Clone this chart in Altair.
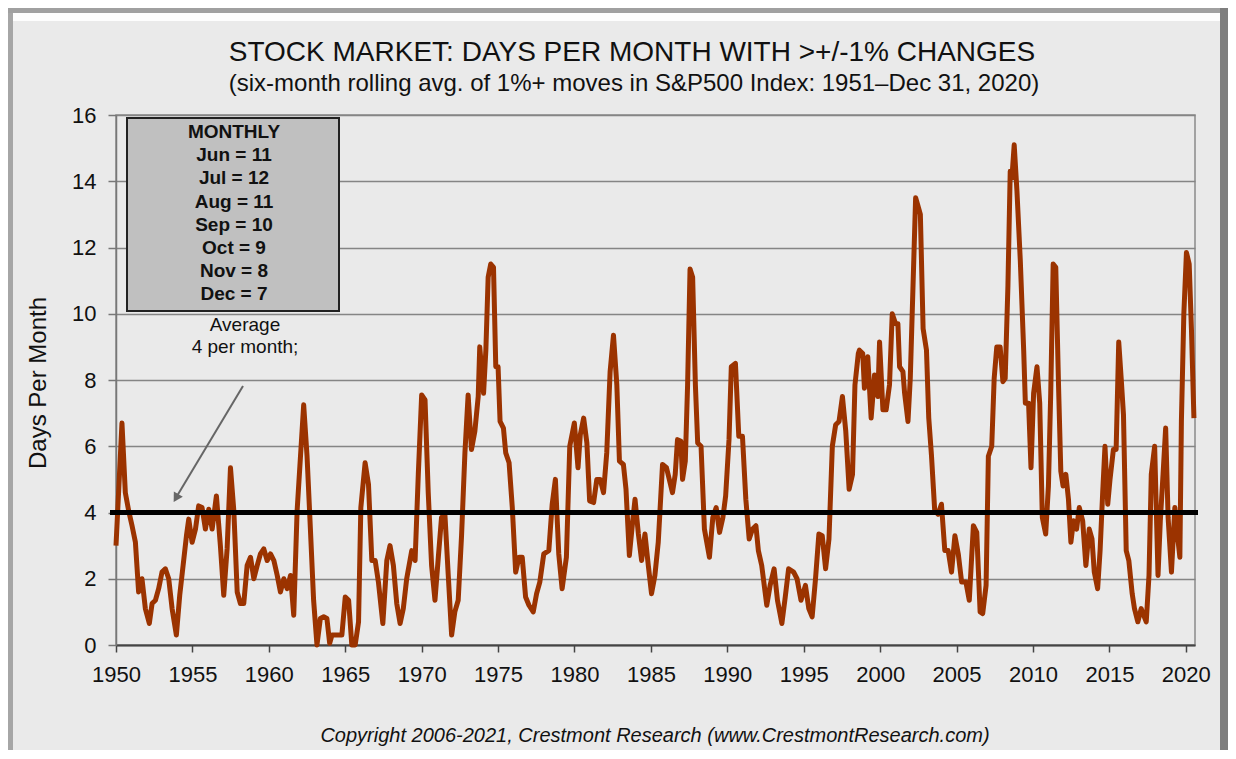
import altair as alt
import pandas as pd

# ---- data ----
years_1950s = [1950.00,1950.39,1950.61,1950.83,1951.05,1951.27,1951.48,1951.70,1951.92,1952.18,1952.36,1952.58,1952.79,
               1953.01,1953.23,1953.45,1953.67,1953.95,1954.17,1954.39,1954.61,1954.76,1954.98,1955.20,1955.41,1955.63,
               1955.85,1956.07,1956.29,1956.57,1956.83,1957.05,1957.27,1957.49,1957.71,1957.93,1958.14,1958.36,1958.58,
               1958.80,1959.02,1959.24,1959.45,1959.67,1959.89,1960.11,1960.33,1960.55,1960.76,1960.98,1961.20,1961.42]
values_1950s = [3.0,6.7,4.6,4.05,3.6,3.1,1.6,2.0,1.1,0.65,1.25,1.35,1.7,
                2.2,2.3,2.0,1.1,0.3,1.5,2.4,3.3,3.8,3.1,3.5,4.2,4.15,
                3.5,4.1,3.5,4.5,3.0,1.5,2.9,5.35,4.05,1.6,1.25,1.25,2.4,
                2.65,2.0,2.4,2.75,2.9,2.55,2.75,2.55,2.1,1.6,2.0,1.7,2.1]

years_1960s = [1961.63,1961.85,1962.28,1962.50,1962.72,1962.93,1963.15,1963.37,1963.59,1963.80,1963.98,1964.13,1964.46,
               1964.78,1965.00,1965.22,1965.43,1965.65,1965.87,1966.02,1966.30,1966.52,1966.74,1966.96,1967.17,1967.46,
               1967.72,1967.93,1968.15,1968.37,1968.59,1968.80,1969.02,1969.35,1969.57,1969.78,1970.00,1970.22,1970.43,
               1970.65,1970.87,1971.09,1971.30,1971.52,1971.74,1971.96,1972.17,1972.39,1972.61,1972.83,1973.04,1973.26,
               1973.48,1973.70,1973.80]
values_1960s = [0.9,4.05,7.25,5.7,3.5,1.35,0.0,0.8,0.85,0.8,0.05,0.3,0.3,
                0.3,1.45,1.35,0.0,0.0,0.7,4.15,5.5,4.85,2.55,2.55,1.9,0.65,
                2.55,3.0,2.4,1.25,0.65,1.1,2.0,2.85,2.55,5.15,7.55,7.4,4.6,
                2.4,1.35,2.65,3.85,3.95,2.1,0.3,1.0,1.35,3.3,5.8,7.55,5.9,
                6.45,7.5,9.0]

years_1970s = [1974.05,1974.20,1974.35,1974.52,1974.70,1974.85,1975.00,1975.13,1975.35,1975.50,1975.72,1975.93,1976.15,
               1976.37,1976.58,1976.80,1977.02,1977.30,1977.52,1977.73,1977.99,1978.32,1978.54,1978.75,1978.97,1979.19,
               1979.47,1979.69,1979.99,1980.23,1980.38,1980.60,1980.81,1980.99,1981.25,1981.46,1981.68,1981.90,1982.11,
               1982.33,1982.55,1982.77,1982.94,1983.20,1983.37,1983.59,1983.81,1983.96,1984.18,1984.39,1984.61,1984.83,
               1985.04,1985.26,1985.48,1985.76,1986.02]
values_1970s = [7.6,8.9,11.1,11.5,11.4,8.4,8.4,6.75,6.55,5.8,5.5,4.15,2.2,
                2.65,2.65,1.45,1.2,1.0,1.55,1.9,2.75,2.85,4.25,5.0,2.75,1.7,
                2.65,6.0,6.7,5.35,6.35,6.85,6.1,4.35,4.3,5.0,5.0,4.6,5.8,
                8.25,9.35,7.85,5.55,5.45,4.7,2.7,3.75,4.4,3.35,2.55,3.35,2.4,
                1.55,2.1,3.1,5.45,5.35]

years_1980s = [1986.41,1986.59,1986.74,1986.96,1987.07,1987.25,1987.40,1987.56,1987.73,1987.91,1988.06,1988.28,1988.50,
               1988.83,1989.05,1989.27,1989.49,1989.71,1989.89,1990.11,1990.26,1990.53,1990.75,1990.99,1991.21,1991.43,
               1991.65,1991.87,1992.03,1992.25,1992.58,1992.80,1993.06,1993.28,1993.57,1993.79,1994.01,1994.34,1994.56,
               1994.82,1995.11,1995.33,1995.55,1995.77,1995.99,1996.21,1996.43,1996.65,1996.87,1997.09,1997.31,1997.53,
               1997.75,1997.97,1998.19,1998.35,1998.57]
values_1980s = [4.6,5.15,6.2,6.15,5.0,5.55,7.85,11.35,11.1,7.85,6.1,6.0,3.5,
                2.65,3.85,4.15,3.4,3.85,4.5,6.2,8.4,8.5,6.3,6.3,4.4,3.2,
                3.5,3.6,2.85,2.4,1.2,1.8,2.3,1.35,0.65,1.45,2.3,2.2,2.0,
                1.35,1.8,1.1,0.85,2.0,3.35,3.3,2.3,3.2,6.0,6.65,6.75,7.5,
                6.45,4.7,5.15,7.85,8.8]

years_2000s = [1998.64,1998.86,1998.97,1999.19,1999.41,1999.63,1999.85,1999.96,2000.18,2000.39,2000.61,2000.79,2001.01,
               2001.16,2001.27,2001.49,2001.60,2001.82,2001.97,2002.15,2002.32,2002.48,2002.63,2002.81,2003.03,2003.18,
               2003.36,2003.57,2003.79,2004.01,2004.23,2004.45,2004.67,2004.89,2005.11,2005.33,2005.61,2005.83,2006.10,
               2006.32,2006.54,2006.71,2006.93,2007.08,2007.30,2007.46,2007.63,2007.85,2008.03,2008.18,2008.36,2008.51,
               2008.62,2008.77,2008.95,2009.17,2009.39,2009.50,2009.71,2009.87,2010.04,2010.26,2010.44]
values_2000s = [8.9,8.8,7.75,8.7,6.85,8.15,7.5,9.15,7.1,7.1,7.85,10.0,9.7,
                9.7,8.4,8.25,7.6,6.75,8.05,10.85,13.5,13.25,13.0,9.55,8.9,6.85,
                5.7,4.05,3.95,4.25,2.85,2.85,2.2,3.3,2.75,1.9,1.9,1.35,3.6,
                3.4,1.0,0.95,1.8,5.7,6.0,8.05,9.0,9.0,7.95,8.05,10.85,14.3,
                14.1,15.1,13.7,11.6,8.9,7.3,7.3,5.35,7.6,8.4,7.3]

years_2010s = [2010.61,2010.83,2011.01,2011.16,2011.32,2011.49,2011.67,2011.82,2011.97,2012.15,2012.32,2012.48,2012.65,
               2012.85,2013.03,2013.25,2013.46,2013.68,2013.86,2014.01,2014.23,2014.39,2014.56,2014.71,2014.89,2015.04,
               2015.26,2015.44,2015.61,2015.77,2015.92,2016.10,2016.27,2016.49,2016.64,2016.86,2017.08,2017.24,2017.41,
               2017.59,2017.74,2017.96,2018.18,2018.33,2018.51,2018.68,2018.84,2019.06,2019.28,2019.43,2019.61,2019.71,
               2019.87,2020.04,2020.22,2020.37,2020.53]
values_2010s = [3.85,3.35,4.8,7.6,11.5,11.4,7.85,5.25,4.8,5.15,4.4,3.1,3.75,
                3.5,4.15,3.75,2.4,3.5,3.2,2.2,1.7,2.85,4.6,6.0,4.25,5.0,
                5.9,5.9,9.15,8.05,6.95,2.85,2.55,1.55,1.1,0.7,1.1,0.9,0.7,
                2.1,5.15,6.0,2.1,3.75,5.15,6.55,3.85,2.2,4.15,3.4,2.65,6.75,
                10.0,11.85,11.5,9.5,6.85]

average_per_month = 4
box_lines = ["MONTHLY", "Jun = 11", "Jul = 12", "Aug = 11", "Sep = 10", "Oct = 9", "Nov = 8", "Dec = 7"]
average_lines = ["Average", "4 per month;"]
x_tick_values = list(range(1950, 2021, 5))
y_tick_values = list(range(0, 17, 2))

title_text = "STOCK MARKET: DAYS PER MONTH WITH >+/-1% CHANGES"
subtitle_text = "(six-month rolling avg. of 1%+ moves in S&P500 Index: 1951\u2013Dec 31, 2020)"
y_title_text = "Days Per Month"
copyright_text = "Copyright 2006-2021, Crestmont Research (www.CrestmontResearch.com)"

# ---- build ----
years = years_1950s + years_1960s + years_1970s + years_1980s + years_2000s + years_2010s
values = values_1950s + values_1960s + values_1970s + values_1980s + values_2000s + values_2010s
df = pd.DataFrame({"year": years, "days": values})
one = pd.DataFrame({"k": [0]})

FONT = "Liberation Sans"
W, H = 1079, 530

x_scale = alt.Scale(domain=[1950, 2020.6], nice=False, zero=False)
y_scale = alt.Scale(domain=[0, 16], nice=False)

line = alt.Chart(df).mark_line(color="#9b3300", strokeWidth=5, strokeJoin="round").encode(
    x=alt.X("year:Q", scale=x_scale,
            axis=alt.Axis(values=x_tick_values, format="d", title=None, grid=False,
                          tickSize=7, tickColor="#444", tickWidth=1.5,
                          domainColor="#444", domainWidth=2,
                          labelFlush=False, labelOverlap=False,
                          labelPadding=12, labelFontSize=22, labelFont=FONT, labelColor="#111")),
    y=alt.Y("days:Q", scale=y_scale,
            axis=alt.Axis(values=y_tick_values, title=None, grid=True,
                          gridColor="#858585", gridWidth=1.5,
                          tickSize=8, tickColor="#777", tickWidth=1.5,
                          domainColor="#777", domainWidth=1.5,
                          labelFlush=False, labelOverlap=False,
                          labelPadding=12, labelFontSize=22, labelFont=FONT, labelColor="#111"))
)

avg_rule = alt.Chart(pd.DataFrame({"avg": [average_per_month]})).mark_rule(
    color="black", strokeWidth=5).encode(
    y=alt.Y("avg:Q", scale=y_scale), x=alt.value(-6), x2=alt.value(1082))

# decorative frame
frame_left = alt.Chart(one).mark_rect(color="#a6a6a6").encode(
    x=alt.value(-108), x2=alt.value(-103), y=alt.value(-107), y2=alt.value(635))
frame_top = alt.Chart(one).mark_rect(color="#a0a0a0").encode(
    x=alt.value(-108), x2=alt.value(1112), y=alt.value(-107), y2=alt.value(-102))
frame_right = alt.Chart(one).mark_rect(color="#7e7e7e").encode(
    x=alt.value(1104), x2=alt.value(1112), y=alt.value(-107), y2=alt.value(635))
highlight = alt.Chart(one).mark_rect(color="#ffffff", opacity=0.9).encode(
    x=alt.value(-103), x2=alt.value(1104), y=alt.value(-102), y2=alt.value(-94))

box = alt.Chart(one).mark_rect(fill="#c0c0c0", stroke="#222222", strokeWidth=2).encode(
    x=alt.value(11), x2=alt.value(223), y=alt.value(3), y2=alt.value(196))
box_text = alt.Chart(one).mark_text(
    font=FONT, fontSize=19, fontWeight="bold", align="center", baseline="top",
    lineBreak="\n", lineHeight=23.2, color="#111").encode(
    x=alt.value(118), y=alt.value(8), text=alt.value("\n".join(box_lines)))
avg_text = alt.Chart(one).mark_text(
    font=FONT, fontSize=19, align="center", baseline="top",
    lineBreak="\n", lineHeight=22, color="#111").encode(
    x=alt.value(129), y=alt.value(201), text=alt.value("\n".join(average_lines)))

arrow_shaft = alt.Chart(one).mark_rule(color="#666666", strokeWidth=2).encode(
    x=alt.value(127), y=alt.value(271), x2=alt.value(61), y2=alt.value(381))
arrow_head = alt.Chart(one).mark_point(
    shape="triangle-up", filled=True, color="#666666", opacity=1, size=110, angle=211).encode(
    x=alt.value(60), y=alt.value(383))

title = alt.Chart(one).mark_text(font=FONT, fontSize=28, align="center", baseline="middle",
                                 color="#111").encode(
    x=alt.value(516), y=alt.value(-62), text=alt.value(title_text))
subtitle = alt.Chart(one).mark_text(font=FONT, fontSize=24, align="center", baseline="middle",
                                    color="#111").encode(
    x=alt.value(518), y=alt.value(-31), text=alt.value(subtitle_text))
y_title = alt.Chart(one).mark_text(font=FONT, fontSize=24, align="center", baseline="middle",
                                   angle=270, color="#111").encode(
    x=alt.value(-77), y=alt.value(268), text=alt.value(y_title_text))
copyright_ = alt.Chart(one).mark_text(font=FONT, fontSize=20, fontStyle="italic", align="center",
                                      baseline="middle", color="#111").encode(
    x=alt.value(539), y=alt.value(621), text=alt.value(copyright_text))

chart = alt.layer(
    frame_left, frame_top, frame_right, highlight,
    line, avg_rule, box, box_text, avg_text, arrow_shaft, arrow_head,
    title, subtitle, y_title, copyright_
).properties(
    width=W, height=H,
    autosize=alt.AutoSizeParams(type="none"),
    padding={"left": 108, "top": 107, "right": 33, "bottom": 105},
    background="#eaeaea",
).configure_view(stroke="#8a8a8a", strokeWidth=1.5)

chart.save("out.html", embed_options={"renderer": "svg", "actions": False})
